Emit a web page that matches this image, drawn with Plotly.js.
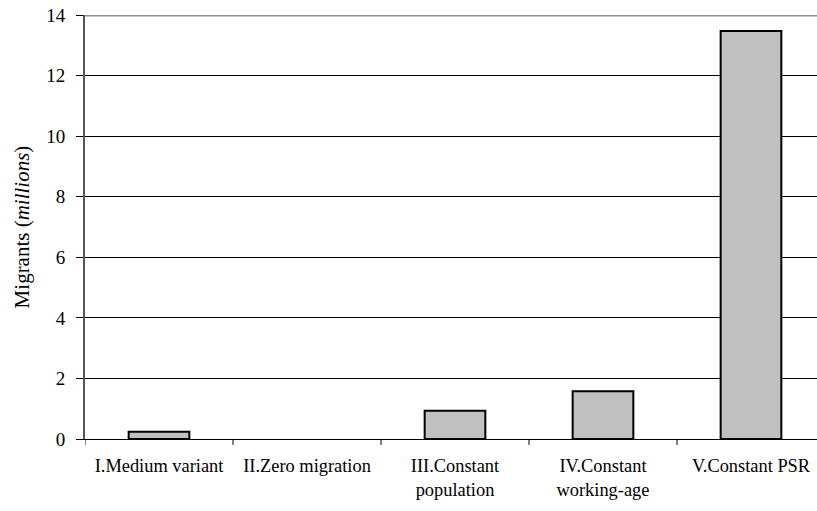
<!DOCTYPE html>
<html>
<head>
<meta charset="utf-8">
<script src="https://cdn.plot.ly/plotly-3.0.1.min.js"></script>
<style>html,body{margin:0;padding:0;background:#fff;}#chart{width:817px;height:511px;}</style>
</head>
<body>
<div id="chart"></div>
<script>
var categories = ["I.Medium variant", "II.Zero migration", "III.Constant<br>population", "IV.Constant<br>working-age", "V.Constant PSR"];
var migrants = [0.24, 0, 0.93, 1.58, 13.47];
var yTicks = [0, 2, 4, 6, 8, 10, 12, 14];

var trace = {
  type: "bar",
  x: [0, 1, 2, 3, 4],
  y: migrants,
  width: 0.41,
  marker: {color: "#C0C0C0", line: {color: "#000000", width: migrants.map(function (v) { return v > 0 ? 2 : 0; })}},
  hoverinfo: "none"
};

var layout = {
  width: 817, height: 511,
  margin: {l: 85, r: 0, t: 15, b: 72},
  paper_bgcolor: "#fff", plot_bgcolor: "#fff",
  showlegend: false,
  font: {family: "'Liberation Serif', 'Times New Roman', serif", color: "#000", size: 18},
  xaxis: {
    type: "linear",
    range: [-0.5, 4.446],
    tickmode: "array",
    tickvals: [0, 1, 2, 3, 4],
    ticktext: categories,
    ticks: "",
    showgrid: false,
    zeroline: false,
    showline: true, linecolor: "#000", linewidth: 1,
    tickfont: {size: 18.4},
    ticklabelstandoff: 10
  },
  yaxis: {
    range: [0, 14],
    tickmode: "array",
    tickvals: yTicks,
    ticktext: yTicks.map(String),
    ticks: "outside", ticklen: 7, tickcolor: "#000", tickwidth: 1,
    showgrid: true, gridcolor: "#000", gridwidth: 1,
    zeroline: false,
    showline: true, linecolor: "#555", linewidth: 2,
    tickfont: {size: 19},
    ticklabelstandoff: 7,
    title: {text: "Migrants (<i>millions</i>)", font: {size: 21}, standoff: 11}
  },
  shapes: [
    {type: "line", xref: "paper", yref: "y", x0: 0, x1: 1, y0: 14, y1: 14, line: {color: "#909090", width: 3}, layer: "above"},
    {type: "line", xref: "x", yref: "paper", x0: 0.5, x1: 0.5, y0: 0, y1: -0.014, line: {color: "#000", width: 1}},
    {type: "line", xref: "x", yref: "paper", x0: 1.5, x1: 1.5, y0: 0, y1: -0.014, line: {color: "#000", width: 1}},
    {type: "line", xref: "x", yref: "paper", x0: 2.5, x1: 2.5, y0: 0, y1: -0.014, line: {color: "#000", width: 1}},
    {type: "line", xref: "x", yref: "paper", x0: 3.5, x1: 3.5, y0: 0, y1: -0.014, line: {color: "#000", width: 1}},
    {type: "line", xref: "x", yref: "paper", x0: -0.5, x1: -0.5, y0: 0, y1: -0.014, line: {color: "#000", width: 1}}
  ]
};

Plotly.newPlot("chart", [trace], layout, {displayModeBar: false, staticPlot: true});
</script>
</body>
</html>
